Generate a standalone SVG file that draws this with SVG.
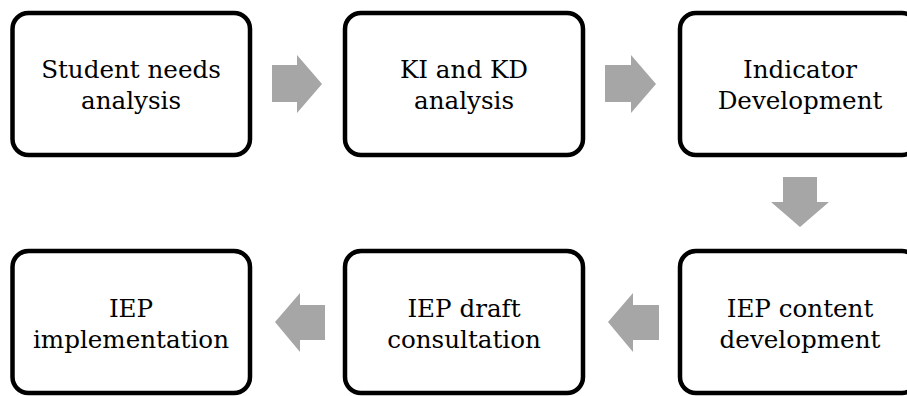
<svg xmlns="http://www.w3.org/2000/svg" width="907" height="396" viewBox="0 0 907 396">
<defs>
<style>
.box{fill:#fff;stroke:#000;stroke-width:4.5}
.lbl{font-family:"DejaVu Serif","Liberation Serif",serif;font-size:24.6px;fill:#000;text-anchor:middle}
.arr{fill:#a6a6a6;stroke:none}
</style>
</defs>
<rect width="907" height="396" fill="#fff"/>
<g id="connectors">
<polygon class="arr" points="272,65 297,65 297,55 322,84 297,113 297,102 272,102"/>
<polygon class="arr" points="605,65 631,65 631,55 656,84 631,113 631,102 605,102"/>
<polygon class="arr" points="783,177 817,177 817,202 829,202 800,227 771,202 783,202"/>
<polygon class="arr" points="659,305 633,305 633,293 608,322 633,352 633,340 659,340"/>
<polygon class="arr" points="325,305 300,305 300,293 275,322 300,352 300,340 325,340"/>
</g>
<g id="n1">
<rect class="box" x="12.5" y="13" width="237.5" height="142" rx="16"/>
<text class="lbl" x="131" y="78">Student needs</text>
<text class="lbl" x="131" y="109">analysis</text>
</g>
<g id="n2">
<rect class="box" x="345" y="13" width="238" height="142" rx="16"/>
<text class="lbl" x="464" y="78">KI and KD</text>
<text class="lbl" x="464" y="109">analysis</text>
</g>
<g id="n3">
<rect class="box" x="680" y="13" width="238" height="142" rx="16"/>
<text class="lbl" x="800" y="78">Indicator</text>
<text class="lbl" x="800" y="109">Development</text>
</g>
<g id="n4">
<rect class="box" x="680" y="251" width="238" height="142" rx="16"/>
<text class="lbl" x="800" y="317">IEP content</text>
<text class="lbl" x="800" y="348">development</text>
</g>
<g id="n5">
<rect class="box" x="345" y="251" width="238" height="142" rx="16"/>
<text class="lbl" x="464" y="317">IEP draft</text>
<text class="lbl" x="464" y="348">consultation</text>
</g>
<g id="n6">
<rect class="box" x="12.5" y="251" width="237.5" height="142" rx="16"/>
<text class="lbl" x="131" y="317">IEP</text>
<text class="lbl" x="131" y="348">implementation</text>
</g>
</svg>
